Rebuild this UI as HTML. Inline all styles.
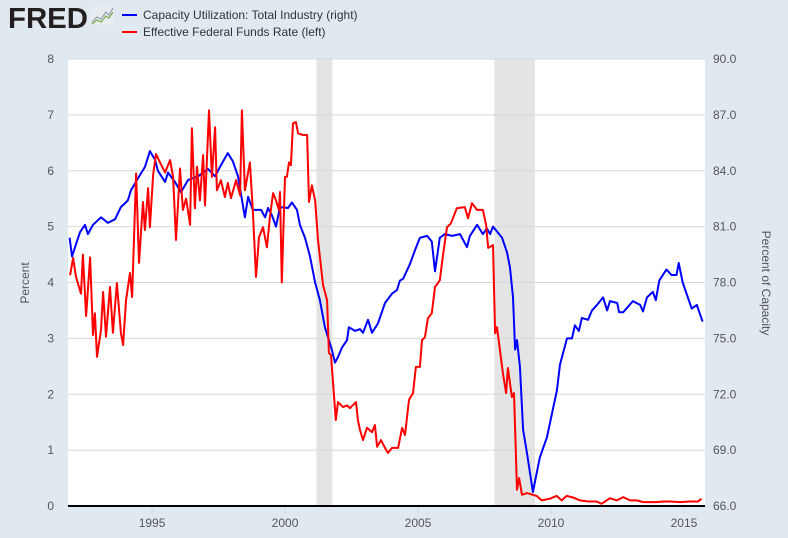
<!DOCTYPE html>
<html><head><meta charset="utf-8"><style>
body{margin:0;background:#e1e9f0;font-family:"Liberation Sans",sans-serif;}
#wrap{position:relative;width:788px;height:538px;overflow:hidden;background:#e1e9f0;}
svg text{font-family:"Liberation Sans",sans-serif;}
</style></head><body>
<div id="wrap">
<svg id="chart" width="788" height="538">
<g>
<text x="8" y="28" font-size="29" font-weight="bold" fill="#231f20" textLength="80" lengthAdjust="spacingAndGlyphs">FRED</text>
<rect x="91" y="6" width="23" height="19" fill="#e8ecef"/>
<polyline points="92,22 97,17 101,19 106,12 109,15 113,8" fill="none" stroke="#8aa0b4" stroke-width="1.2"/>
<polyline points="92,24 97,20 101,22 106,16 109,18 113,12" fill="none" stroke="#7cab4a" stroke-width="1.2"/>
</g>
<g>
<line x1="122" y1="15" x2="137" y2="15" stroke="#0000ff" stroke-width="2"/>
<text x="143" y="19" font-size="12" fill="#333">Capacity Utilization: Total Industry (right)</text>
<line x1="122" y1="32" x2="137" y2="32" stroke="#ff0000" stroke-width="2"/>
<text x="143" y="36" font-size="12" fill="#333">Effective Federal Funds Rate (left)</text>
</g>
<rect x="68" y="59" width="637" height="447" fill="#fff"/>
<g id="rec"></g><g id="grid"></g><g id="axes"></g><g id="series"></g>
<text transform="translate(29,283) rotate(-90)" text-anchor="middle" font-size="12" fill="#555">Percent</text>
<text transform="translate(762,283) rotate(90)" text-anchor="middle" font-size="12" fill="#555">Percent of Capacity</text>
</svg>
</div>
<script>
// data: years given as offset from DATA_BASE (start of series)
const DATA_BASE=1991.9;
const recessionStarts=[2001.18,2007.87];
const recessionEnds=[2001.78,2009.4];
const leftTicks=[0,1,2,3,4,5,6,7,8];
const rightTicks=["66.0","69.0","72.0","75.0","78.0","81.0","84.0","87.0","90.0"];
const xTicks=[1995,2000,2005,2010,2015];
const cuYears=[0,0.09,0.39,0.58,0.69,0.88,1.18,1.44,1.71,1.93,2.19,2.31,2.57,2.83,3.02,3.21,3.32,3.59,3.7,3.96,4.19,4.45,4.83,5.2,5.47,5.69,5.95,6.14,6.33,6.59,6.71,6.89,7.2,7.35,7.46,7.61,7.76,7.91,8.21,8.36,8.55,8.66,8.85,9.04,9.23,9.41,9.6,9.86,9.98,10.09,10.24,10.43,10.5,10.73,10.92,11.03,11.22,11.37,11.59,11.86,12.12,12.31,12.42,12.54,12.8,12.98,13.17,13.44,13.62,13.74,13.92,14.11,14.38,14.68,14.94,15.05,15.32,15.54,15.69,15.81,15.92,16.26,16.45,16.56,16.67,16.75,16.82,16.93,17.05,17.2,17.42,17.68,17.95,18.14,18.32,18.44,18.7,18.89,19.0,19.15,19.26,19.49,19.64,19.83,20.06,20.21,20.32,20.59,20.66,20.81,21.0,21.18,21.45,21.56,21.71,21.93,22.04,22.17,22.44,22.63,22.82,22.9,23.05,23.39,23.58,23.8];
const cuValues=[80.4,79.4,80.7,81.1,80.6,81.1,81.5,81.2,81.4,82.05,82.4,82.95,83.6,84.2,85.05,84.6,84.0,83.4,83.9,83.4,82.85,83.5,83.7,84.1,83.7,84.3,84.95,84.5,83.7,81.5,82.6,81.9,81.9,81.5,82.0,81.6,81.0,82.05,82.0,82.3,81.9,81.1,80.4,79.4,78.0,77.05,75.6,74.4,73.7,74.0,74.5,74.9,75.6,75.4,75.5,75.3,76.0,75.3,75.8,76.9,77.4,77.6,78.1,78.2,79.0,79.7,80.4,80.5,80.2,78.6,80.4,80.6,80.5,80.6,79.9,80.5,81.1,80.6,80.9,80.6,81.0,80.4,79.6,78.8,77.2,74.4,74.9,73.5,70.1,68.8,66.75,68.6,69.7,71.0,72.2,73.6,75.0,75.0,75.7,75.4,76.1,76.0,76.5,76.8,77.2,76.5,77.0,76.9,76.4,76.4,76.7,77.0,76.8,76.45,77.2,77.5,77.05,78.1,78.7,78.4,78.4,79.05,78.0,76.6,76.8,75.9];
const ffYears=[0.02,0.13,0.24,0.43,0.5,0.62,0.77,0.88,0.95,1.03,1.18,1.26,1.37,1.52,1.63,1.78,1.93,2.01,2.12,2.27,2.35,2.5,2.61,2.76,2.83,2.95,3.02,3.14,3.25,3.4,3.59,3.78,3.89,4.0,4.15,4.26,4.38,4.53,4.6,4.71,4.79,4.9,5.02,5.09,5.24,5.35,5.47,5.54,5.69,5.84,5.95,6.07,6.26,6.41,6.48,6.59,6.78,6.89,7.01,7.12,7.27,7.42,7.53,7.65,7.76,7.87,7.91,7.98,8.1,8.17,8.25,8.32,8.4,8.51,8.59,8.78,8.93,9.0,9.11,9.23,9.34,9.53,9.68,9.75,9.83,10.01,10.09,10.28,10.43,10.54,10.77,10.84,10.92,11.03,11.18,11.37,11.48,11.56,11.71,11.86,11.97,12.12,12.35,12.5,12.61,12.76,12.91,13.02,13.17,13.25,13.36,13.47,13.62,13.74,13.92,14.04,14.19,14.34,14.56,14.86,14.98,15.13,15.32,15.54,15.66,15.74,15.92,16.0,16.07,16.29,16.41,16.48,16.63,16.71,16.82,16.9,17.01,17.2,17.42,17.56,17.75,18.06,18.31,18.5,18.69,18.94,19.19,19.5,19.82,20.0,20.32,20.57,20.82,21.07,21.32,21.57,22.07,22.32,22.57,22.95,23.32,23.63,23.76];
const ffValues=[4.13,4.44,4.1,3.8,4.5,3.4,4.45,3.06,3.45,2.67,3.15,3.83,3.03,3.92,3.1,3.99,3.1,2.88,3.68,4.17,3.74,5.95,4.35,5.44,4.94,5.69,4.99,5.92,6.3,6.15,5.97,6.19,5.89,4.76,6.04,5.3,5.5,5.03,6.76,5.33,6.07,5.47,6.28,5.38,7.08,5.89,6.78,5.65,5.83,5.53,5.78,5.51,5.83,5.56,7.08,5.65,6.15,5.3,4.1,4.81,4.99,4.63,5.17,5.6,5.47,5.3,5.62,4.0,5.89,5.89,6.15,6.1,6.85,6.87,6.67,6.64,6.64,5.44,5.74,5.47,4.76,3.95,3.68,2.74,2.7,1.54,1.86,1.77,1.8,1.75,1.86,1.54,1.36,1.18,1.4,1.32,1.45,1.06,1.18,1.04,0.95,1.04,1.04,1.4,1.27,1.9,2.02,2.49,2.49,2.97,3.02,3.36,3.45,3.92,4.04,4.49,4.99,5.06,5.33,5.35,5.15,5.42,5.3,5.3,5.03,4.62,4.67,3.09,3.2,2.38,2.02,2.47,1.95,2.02,0.29,0.5,0.2,0.23,0.2,0.18,0.1,0.13,0.18,0.1,0.18,0.15,0.1,0.08,0.08,0.04,0.14,0.1,0.16,0.1,0.1,0.07,0.07,0.08,0.08,0.07,0.08,0.08,0.13];

const NS="http://www.w3.org/2000/svg";
const X0=68,X1=705,Y0=59,Y1=506,YEAR0=1991.84,YEAR1=2015.79;
function xs(yr){return X0+(yr-YEAR0)/(YEAR1-YEAR0)*(X1-X0);}
function yl(v){return Y1-v/8*(Y1-Y0);}
function yr(v){return Y1-(v-66)/24*(Y1-Y0);}
function mk(tag,attrs,parent){const e=document.createElementNS(NS,tag);for(const k in attrs)e.setAttribute(k,attrs[k]);parent.appendChild(e);return e;}
const gRec=document.getElementById('rec'),gGrid=document.getElementById('grid'),gAx=document.getElementById('axes'),gS=document.getElementById('series');
recessionStarts.forEach((s,i)=>{
 const r=mk('rect',{x:xs(s),y:Y0,width:xs(recessionEnds[i])-xs(s),height:Y1-Y0,fill:'#e4e4e4'},gRec);
 
 
});
leftTicks.forEach((v,i)=>{
 const y=yl(v);
 if(v>0){const l=mk('line',{x1:X0,x2:X1,y1:y,y2:y,stroke:'#d8d8d8','stroke-width':1},gGrid);
 
 }
 const t=mk('text',{x:54,y:y+4,'text-anchor':'end','font-size':12,fill:'#555'},gAx);t.textContent=v;
 
 
 const t2=mk('text',{x:713,y:y+4,'font-size':12,fill:'#555'},gAx);t2.textContent=rightTicks[i];
 
 
});
xTicks.forEach(yv=>{
 const x=xs(yv);
 const tk=mk('line',{x1:x,x2:x,y1:Y1,y2:Y1+8,stroke:'#ccd6eb','stroke-width':1},gAx);
 
 
 const t=mk('text',{x:x,y:527,'text-anchor':'middle','font-size':12,fill:'#555'},gAx);t.textContent=yv;
 
 
});
const base=mk('line',{x1:X0,x2:X1,y1:Y1,y2:Y1,stroke:'#000','stroke-width':2},gAx);


const cu=mk('polyline',{points:cuYears.map((o,i)=>xs(DATA_BASE+o).toFixed(1)+','+yr(cuValues[i]).toFixed(1)).join(' '),fill:'none',stroke:'#0000ff','stroke-width':2,'stroke-linejoin':'round'},gS);


const ff=mk('polyline',{points:ffYears.map((o,i)=>xs(DATA_BASE+o).toFixed(1)+','+yl(ffValues[i]).toFixed(1)).join(' '),fill:'none',stroke:'#ff0000','stroke-width':2,'stroke-linejoin':'round'},gS);


</script>
</body></html>
